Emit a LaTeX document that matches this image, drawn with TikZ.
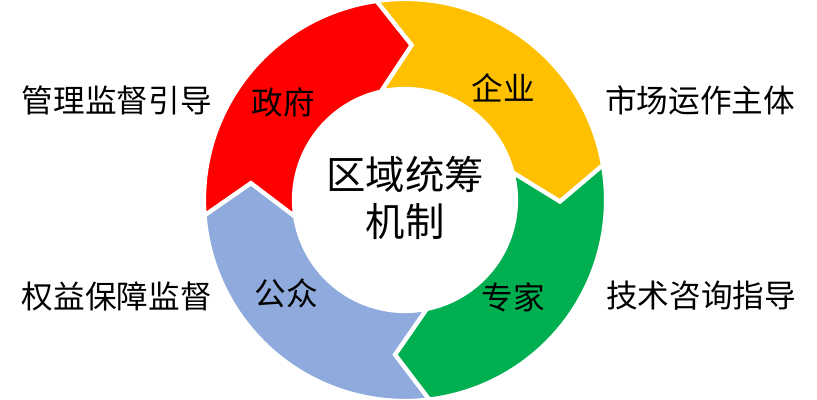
\documentclass[tikz,border=0pt]{standalone}
\usepackage{fontspec}
\newfontfamily\cjk{Noto Sans CJK SC}
\usetikzlibrary{positioning}
\definecolor{govred}{HTML}{FF0000}
\definecolor{firmyellow}{HTML}{FFC000}
\definecolor{expgreen}{HTML}{00B050}
\definecolor{pubblue}{HTML}{8FAADC}

\begin{document}
\begin{tikzpicture}[
  seg/.style={draw=white, line width=3pt, line join=miter},
  lbl/.style={font=\cjk\fontsize{22.5}{27}\selectfont, inner sep=0pt}]
  \useasboundingbox (0,0) rectangle (20.425,10);
  \def\rout{5.025} \def\rin{2.775} \def\rmid{3.875}

  % Cycle arrows, clockwise (colour / tail tip / head tip)
  \begin{scope}[shift={(10.125,5)}]
  \foreach \c/\a/\b in {govred/173.8/87.5, firmyellow/87.5/-0.6, expgreen/-0.6/-93.7, pubblue/-93.7/-186.2} {
    \filldraw[seg, fill=\c] ({\a+10.6}:\rout) arc[start angle={\a+10.6}, end angle={\b+10.6}, radius=\rout]
      -- (\b:\rmid) -- ({\b+15}:\rin) arc[start angle={\b+15}, end angle={\a+15}, radius=\rin]
      -- (\a:\rmid) -- cycle;
  }
  \end{scope}

  % Names on the ring
  \node[lbl] (gov) at (7.075,7.45) {政府};
  \node[lbl] (firm) at (12.575,7.8) {企业};
  \node[lbl] (expert) at (12.825,2.575) {专家};
  \node[lbl] (public) at (7.15,2.675) {公众};

  % Centre
  \node[font=\cjk\fontsize{28}{33.4}\selectfont, align=center, inner sep=0pt] (mech) at (10.125,5.04) {区域统筹\\机制};

  % Roles
  \node[lbl] (guide) at (2.92,7.5) {管理监督引导};
  \node[lbl] (market) at (17.5,7.5) {市场运作主体};
  \node[lbl] (advice) at (17.525,2.6) {技术咨询指导};
  \node[lbl] (rights) at (2.92,2.58) {权益保障监督};
\end{tikzpicture}
\end{document}
